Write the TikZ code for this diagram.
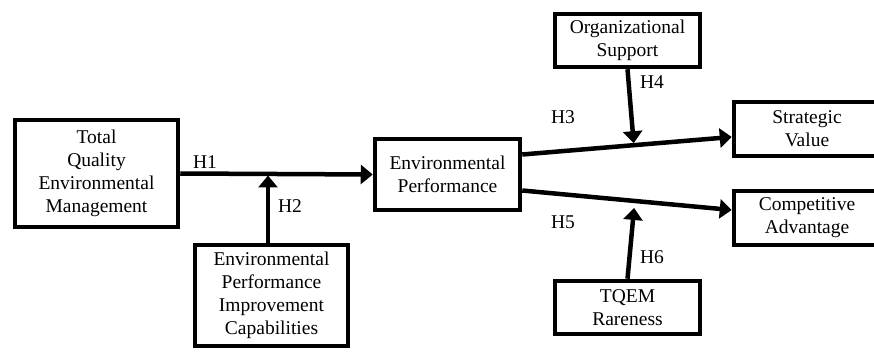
\documentclass[tikz,border=0pt]{standalone}
\usepackage{fontspec}
\setmainfont{Liberation Serif}
\usetikzlibrary{positioning,arrows.meta,calc}

\begin{document}
\begin{tikzpicture}[x=1pt,y=-1pt,>={Triangle[length=12pt,width=19pt]},
  box/.style={draw,line width=4.5pt,align=center,inner sep=1pt,
    font=\fontsize{19.5}{23}\selectfont},
  arr/.style={->,line width=4.5pt},
  lab/.style={font=\fontsize{19.5}{22}\selectfont}]
  \useasboundingbox (0,0) rectangle (874,352);
  % constructs
  \node[box,minimum width=163pt,minimum height=107pt] (tqem) at (96.5,173.5)
    {Total\\Quality\\Environmental\\Management};
  \node[box,minimum width=153pt,minimum height=101pt] (epic) at (271.5,295.5)
    {Environmental\\Performance\\Improvement\\Capabilities};
  \node[box,minimum width=145pt,minimum height=71pt] (ep) at (447.5,174.5)
    {Environmental\\Performance};
  \node[box,minimum width=145pt,minimum height=53pt] (os) at (627.5,40.5)
    {Organizational\\Support};
  \node[box,minimum width=146pt,minimum height=54pt] (sv) at (807,129)
    {Strategic\\Value};
  \node[box,minimum width=146pt,minimum height=54pt] (ca) at (807,218)
    {Competitive\\Advantage};
  \node[box,minimum width=145pt,minimum height=53pt] (tqr) at (627.5,307.5)
    {TQEM\\Rareness};
  % main paths
  \draw[arr] (tqem.east) -- (ep.west);
  \coordinate (h3s) at ([yshift=20pt]ep.east);
  \coordinate (h3e) at ([yshift=-8pt]sv.west);
  \coordinate (h5s) at ([yshift=-16pt]ep.east);
  \coordinate (h5e) at ([yshift=8pt]ca.west);
  \draw[arr] (h3s) -- (h3e);
  \draw[arr] (h5s) -- (h5e);
  % moderators
  \coordinate (m2) at ([xshift=-3.5pt]epic.north |- tqem.east);
  \draw[arr,shorten >=2pt] ([xshift=-3.5pt]epic.north) -- (m2);
  \coordinate (m4) at ($(h3s)!(os.south)!(h3e)$);
  \draw[arr,shorten >=2pt] (os.south) -- (m4);
  \coordinate (m6) at ($(h5s)!(tqr.north)!(h5e)$);
  \draw[arr,shorten >=7pt] (tqr.north) -- (m6);
  % hypotheses
  \node[lab] (h1) at (205,162) {H1};
  \node[lab] (h2) at (290,206) {H2};
  \node[lab] (h3) at (563,117) {H3};
  \node[lab] (h4) at (652,82) {H4};
  \node[lab] (h5) at (563,222) {H5};
  \node[lab] (h6) at (652,257) {H6};
\end{tikzpicture}
\end{document}
